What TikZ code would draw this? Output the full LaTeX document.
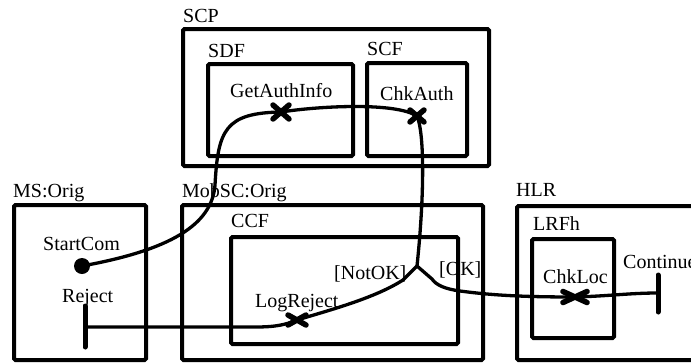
\documentclass[tikz,border=0pt]{standalone}
\usepackage{fontspec}
\setmainfont{Liberation Serif}
\usetikzlibrary{shapes.misc}
\begin{document}
\begin{tikzpicture}[x=1pt,y=-1pt,
  box/.style={draw, line width=4pt, rounded corners=1.5pt, inner sep=0pt, outer sep=0pt, anchor=north west},
  lbl/.style={inner sep=0pt, anchor=base west, font=\fontsize{20}{24}\selectfont},
  flow/.style={line width=3.3pt, line join=round},
  xmark/.style={cross out, draw, line width=5.5pt, line cap=round, inner sep=0pt, outer sep=0pt},
  endbar/.style={line width=5pt, line cap=round}]
\useasboundingbox (0,0) rectangle (691,362);
\clip (0,0) rectangle (691,362);
% labels
\node[lbl] (tscp) at (183,22) {SCP};
\node[lbl] (tsdf) at (208,57) {SDF};
\node[lbl] (tscf) at (367,55) {SCF};
\node[lbl] (tgai) at (230,97) {GetAuthInfo};
\node[lbl] (tchka) at (380,100) {ChkAuth};
\node[lbl] (tms) at (13,197) {MS:Orig};
\node[lbl] (tmob) at (182,197) {MobSC:Orig};
\node[lbl] (tccf) at (231,227) {CCF};
\node[lbl] (tstart) at (43,250) {StartCom};
\node[lbl] (treject) at (62,302) {Reject};
\node[lbl] (tlogrej) at (255,307) {LogReject};
\node[lbl] (tnotok) at (334,279) {[NotOK]};
\node[lbl] (tok) at (439,275) {[OK]};
\node[lbl] (thlr) at (516,196) {HLR};
\node[lbl] (tlrfh) at (533,230) {LRFh};
\node[lbl] (tchkl) at (543,283) {ChkLoc};
\node[lbl] (tcont) at (623,268) {Continue};
% boxes
\node[box, minimum width=306pt, minimum height=137pt] (scp) at (183,29) {};
\node[box, minimum width=145pt, minimum height=92pt] (sdf) at (208,64) {};
\node[box, minimum width=100pt, minimum height=93pt] (scf) at (367,63) {};
\node[box, minimum width=132pt, minimum height=155pt] (ms) at (14,205) {};
\node[box, minimum width=301pt, minimum height=155pt] (mob) at (182,205) {};
\node[box, minimum width=227pt, minimum height=107pt] (ccf) at (231,237) {};
\node[box, minimum width=243pt, minimum height=154pt] (hlr) at (517,206) {};
\node[box, minimum width=82pt, minimum height=99pt] (lrfh) at (532,239) {};
% points
\node[circle, fill, minimum size=16pt, inner sep=0pt] (startdot) at (82,266) {};
\coordinate (fork) at (417,266);
\coordinate (rejtop) at (85,306);
\coordinate (rejmid) at (85,327);
\coordinate (rejbot) at (85,347);
\coordinate (conttop) at (658,275);
\coordinate (contmid) at (658,293);
\coordinate (contbot) at (658,312);
% flows
\draw[flow] (startdot.center) .. controls (170,250) and (212,225) .. (215,185)
   .. controls (218,130) and (225,113) .. (281,112) coordinate (gai);
\draw[flow] (gai) .. controls (320,106) and (395,102) .. (417,116) coordinate (chka);
\draw[flow] (chka) .. controls (425,135) and (424,200) .. (fork);
\draw[flow] (fork) -- (403,280) .. controls (375,298) and (330,310) .. (297,320) coordinate (logrej);
\draw[flow] (logrej) .. controls (285,325) and (275,327) .. (255,327) -- (rejmid);
\draw[flow] (fork) -- (432,279) .. controls (436,285) and (445,289) .. (460,291)
   .. controls (490,295) and (520,297) .. (575,297) coordinate (chkl);
\draw[flow] (chkl) .. controls (610,296) and (630,293) .. (contmid);
\draw[endbar] (rejtop) -- (rejbot);
\draw[endbar] (conttop) -- (contbot);
% crosses
\node[xmark, minimum width=16pt, minimum height=14pt] (xgai) at (gai) {};
\node[xmark, minimum width=14pt, minimum height=12pt] (xchka) at (chka) {};
\node[xmark, minimum width=18pt, minimum height=10pt] (xlogrej) at (logrej) {};
\node[xmark, minimum width=24pt, minimum height=11pt] (xchkl) at (chkl) {};
\end{tikzpicture}
\end{document}
